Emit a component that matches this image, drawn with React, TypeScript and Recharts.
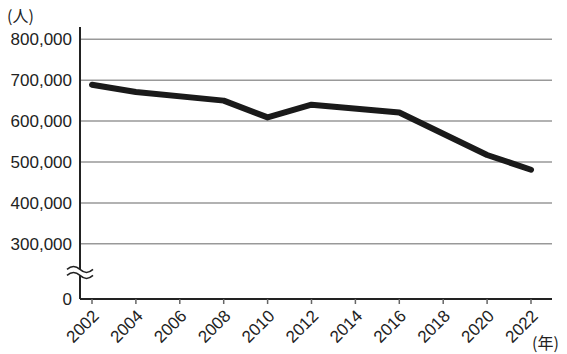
import { LineChart, Line, XAxis, YAxis, CartesianGrid } from "recharts";

const years = [2002, 2004, 2008, 2010, 2012, 2016, 2020, 2022];
const people = [689000, 671000, 650000, 609000, 640000, 621000, 517000, 481000];
const yearTicks = [2002, 2004, 2006, 2008, 2010, 2012, 2014, 2016, 2018, 2020, 2022];
const gridValues = [300000, 400000, 500000, 600000, 700000, 800000];
// the axis is broken below 300,000: "0" sits at this value, the break mark at BREAK
const ZERO = 165000;
const BREAK = 230000;

const data = years.map((y, i) => ({ year: y, value: people[i] }));

const font = "'Liberation Sans', Arial, sans-serif";
const jpFont = "'Noto Sans CJK JP', sans-serif";

function YTick(props: any) {
  const { x, y, payload } = props;
  const v = payload.value;
  if (v === BREAK) {
    const ax = x + 8;
    return (
      <g transform={`translate(${ax},${y})`}>
        <path d="M -13 -3 Q -6.5 -9 0 -3 T 13 -3 L 13 3 Q 6.5 9 0 3 Q -6.5 -3 -13 3 Z" fill="#fff" stroke="none" />
        <path d="M -13 -3 Q -6.5 -9 0 -3 T 13 -3" fill="none" stroke="#222" strokeWidth={1.5} />
        <path d="M -13 3 Q -6.5 -3 0 3 T 13 3" fill="none" stroke="#222" strokeWidth={1.5} />
      </g>
    );
  }
  const label = v === ZERO ? "0" : v.toLocaleString("en-US");
  return (
    <text x={x} y={y} dy="0.36em" textAnchor="end" fontSize={17} fill="#222" fontFamily={font}>
      {label}
    </text>
  );
}

function XTick(props: any) {
  const { x, y, payload } = props;
  const tx = x + 8;
  const ty = y + 11;
  return (
    <text
      x={tx}
      y={ty}
      textAnchor="end"
      fontSize={17}
      fill="#222"
      fontFamily={font}
      transform={`rotate(-45, ${tx}, ${ty})`}
    >
      {payload.value}
    </text>
  );
}

export default function App() {
  return (
    <div style={{ position: "fixed", left: 0, top: 0, width: 567, height: 354, background: "#fff" }}>
      <div style={{ position: "absolute", left: 7, top: 3, fontSize: 16, fontFamily: jpFont, color: "#222" }}>
        (人)
      </div>
      <div style={{ position: "absolute", left: 532, top: 330, fontSize: 16, fontFamily: jpFont, color: "#222" }}>
        (年)
      </div>
      <LineChart width={567} height={354} data={data} margin={{ top: 27, right: 15, bottom: 0, left: 0 }}>
        <CartesianGrid vertical={false} horizontalValues={gridValues} stroke="#999" strokeWidth={1.5} />
        <XAxis
          dataKey="year"
          type="number"
          domain={[2002, 2022]}
          ticks={yearTicks}
          padding={{ left: 12, right: 21 }}
          height={55}
          axisLine={{ stroke: "#222", strokeWidth: 2 }}
          tickLine={{ stroke: "#666", strokeWidth: 1.5 }}
          tickSize={5}
          tick={<XTick />}
          interval={0}
        />
        <YAxis
          type="number"
          domain={[ZERO, 830000]}
          ticks={[ZERO, BREAK, ...gridValues]}
          width={80}
          axisLine={{ stroke: "#222", strokeWidth: 2 }}
          tickLine={false}
          tickSize={6}
          tickMargin={2}
          tick={<YTick />}
          interval={0}
          allowDataOverflow
        />
        <Line
          type="linear"
          dataKey="value"
          stroke="#1a1a1a"
          strokeWidth={6}
          strokeLinejoin="round"
          strokeLinecap="round"
          dot={false}
          isAnimationActive={false}
        />
      </LineChart>
    </div>
  );
}
